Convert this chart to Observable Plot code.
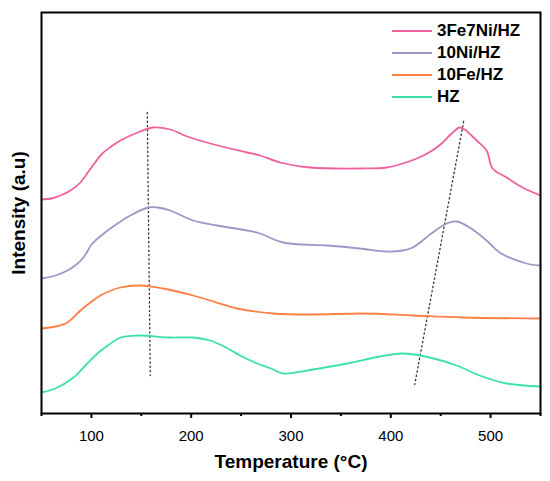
<!DOCTYPE html>
<html>
<head>
<meta charset="utf-8">
<script src="https://cdn.jsdelivr.net/npm/d3@7"></script>
<script src="https://cdn.jsdelivr.net/npm/@observablehq/plot@0.6"></script>
<style>
  body { margin: 0; background: #fff; font-family: "Liberation Sans", Arial, sans-serif; }
  #wrap { position: relative; width: 550px; height: 481px; }
  #legend { position: absolute; left: 392px; top: 20px; font-weight: bold; font-size: 17px; }
  #legend .row { display: flex; align-items: center; height: 22px; }
  #legend .sw { width: 40px; height: 2px; margin-right: 5px; }
</style>
</head>
<body>
<div id="wrap"><div id="legend"></div></div>
<script>
const seriesNames = ["3Fe7Ni/HZ", "10Ni/HZ", "10Fe/HZ", "HZ"];
const seriesColors = ["#f0609e", "#9b97c6", "#ff7f44", "#3ddfae"];

const temp3Fe7Ni = [50, 60, 69, 79, 89, 100, 111, 120, 129, 149, 162, 179, 196, 219, 256, 269, 289, 319, 369, 396, 412, 426, 440, 451, 462, 469, 474, 486, 496, 502, 516, 532, 550];
const int3Fe7Ni  = [214, 215, 218, 223, 231, 246, 260, 267, 273, 282, 286, 284, 277, 270, 261, 258, 251, 246, 245, 246, 250, 255, 262, 270, 281, 286, 284, 273, 263, 245, 236, 226, 218];

const temp10Ni = [50, 64, 76, 85, 92, 101, 110, 119, 139, 157, 166, 179, 202, 226, 256, 269, 292, 336, 369, 396, 412, 422, 442, 456, 466, 479, 496, 509, 536, 550];
const int10Ni  = [135, 138, 143, 149, 156, 170, 178, 185, 198, 206, 206, 203, 193, 188, 183, 180, 171, 168, 165, 162, 163, 166, 181, 190, 192, 186, 173, 161, 150, 148];

const temp10Fe = [50, 64, 76, 89, 99, 109, 129, 149, 172, 202, 219, 246, 282, 322, 372, 422, 472, 550];
const int10Fe  = [85, 87, 91, 103, 111, 118, 126, 128, 125, 118, 113, 105, 100, 99, 100, 98, 96, 95];

const tempHZ = [50, 64, 82, 94, 106, 118, 129, 146, 179, 202, 219, 235, 249, 266, 280, 292, 322, 356, 389, 412, 439, 466, 489, 516, 550];
const intHZ  = [21, 25, 36, 48, 60, 69, 76, 78, 76, 76, 73, 66, 58, 50, 45, 40, 44, 50, 57, 60, 56, 48, 38, 30, 27];

// dotted guide lines marking the peak shifts (temperature, intensity)
const guideTemp = [[156, 159], [473, 424]];
const guideInt  = [[301, 38], [292, 29]];

const majorTicks = [100, 200, 300, 400, 500];
const minorTicks = [50, 150, 250, 350, 450, 550];

const temps = [temp3Fe7Ni, temp10Ni, temp10Fe, tempHZ];
const ints = [int3Fe7Ni, int10Ni, int10Fe, intHZ];

const rows = [];
seriesNames.forEach((name, i) => {
  temps[i].forEach((t, j) => rows.push({series: name, t, v: ints[i][j]}));
});
const guides = [];
guideTemp.forEach((g, i) => {
  g.forEach((t, j) => guides.push({g: i, t, v: guideInt[i][j]}));
});

const font = '"Liberation Sans", Arial, sans-serif';

const chart = Plot.plot({
  width: 550,
  height: 481,
  marginLeft: 41,
  marginRight: 10,
  marginTop: 12,
  marginBottom: 68,
  style: {fontFamily: font, background: "#fff", color: "#000", overflow: "visible"},
  x: {domain: [50, 550]},
  y: {domain: [0, 401], axis: null},
  color: {domain: seriesNames, range: seriesColors},
  marks: [
    Plot.line(guides, {x: "t", y: "v", z: "g", stroke: "#333", strokeWidth: 1.3, strokeDasharray: "1.3,3"}),
    Plot.line(rows, {x: "t", y: "v", z: "series", stroke: "series", strokeWidth: 1.8, curve: "catmull-rom"}),
    Plot.axisX({ticks: majorTicks, tickSize: 5, tickPadding: 12, fontSize: 15, strokeWidth: 2, label: null, tickFormat: d => String(d)}),
    Plot.axisX({ticks: minorTicks, tickSize: 3, strokeWidth: 2, text: null, label: null}),
    Plot.frame({stroke: "#000", strokeWidth: 2}),
    Plot.text(["Temperature (°C)"], {frameAnchor: "bottom", dy: 54, fontSize: 19, fontWeight: "bold", fill: "#000"}),
    Plot.text(["Intensity (a.u)"], {frameAnchor: "left", textAnchor: "middle", dx: -23, rotate: -90, fontSize: 19, fontWeight: "bold", fill: "#000"})
  ]
});

const wrap = document.getElementById("wrap");
wrap.insertBefore(chart, wrap.firstChild);

const legend = document.getElementById("legend");
seriesNames.forEach((name, i) => {
  const row = document.createElement("div");
  row.className = "row";
  const sw = document.createElement("div");
  sw.className = "sw";
  sw.style.background = seriesColors[i];
  const label = document.createElement("span");
  label.textContent = name;
  row.appendChild(sw);
  row.appendChild(label);
  legend.appendChild(row);
});
</script>
</body>
</html>
